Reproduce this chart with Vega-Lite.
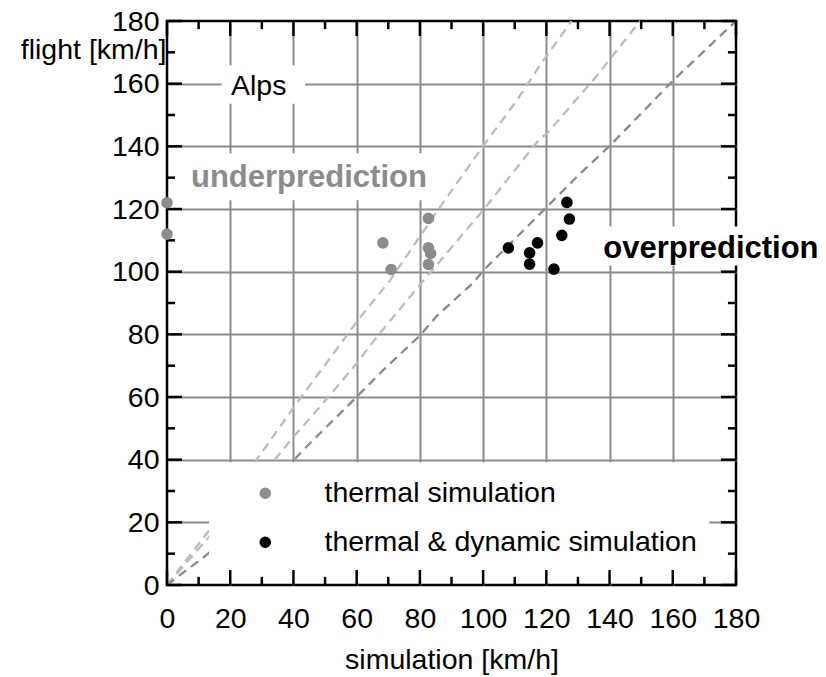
{
  "$schema": "https://vega.github.io/schema/vega-lite/v6.json",
  "width": 569,
  "height": 564,
  "autosize": {"type": "none"},
  "padding": {"left": 167, "top": 21, "right": 90, "bottom": 92},
  "background": "white",
  "config": {
    "view": {"stroke": "black", "strokeWidth": 2.5},
    "font": "Liberation Sans"
  },
  "datasets": {
    "ptsData": [
      {"sim": 0, "flight": 122, "type": "thermal simulation"},
      {"sim": 0, "flight": 112, "type": "thermal simulation"},
      {"sim": 68.3, "flight": 109.2, "type": "thermal simulation"},
      {"sim": 70.9, "flight": 100.7, "type": "thermal simulation"},
      {"sim": 82.7, "flight": 117, "type": "thermal simulation"},
      {"sim": 82.7, "flight": 107.6, "type": "thermal simulation"},
      {"sim": 83.4, "flight": 105.8, "type": "thermal simulation"},
      {"sim": 82.7, "flight": 102.3, "type": "thermal simulation"},
      {"sim": 108, "flight": 107.6, "type": "thermal & dynamic simulation"},
      {"sim": 117.2, "flight": 109.2, "type": "thermal & dynamic simulation"},
      {"sim": 114.7, "flight": 106, "type": "thermal & dynamic simulation"},
      {"sim": 114.7, "flight": 102.4, "type": "thermal & dynamic simulation"},
      {"sim": 122.4, "flight": 100.8, "type": "thermal & dynamic simulation"},
      {"sim": 124.9, "flight": 111.6, "type": "thermal & dynamic simulation"},
      {"sim": 126.5, "flight": 122.1, "type": "thermal & dynamic simulation"},
      {"sim": 127.3, "flight": 116.8, "type": "thermal & dynamic simulation"}
    ],
    "lineData": [
      {"line": "A", "sim": 0, "flight": 0},
      {"line": "A", "sim": 13, "flight": 17},
      {"line": "A", "sim": 29.4, "flight": 41.5},
      {"line": "A", "sim": 41, "flight": 58},
      {"line": "A", "sim": 56.9, "flight": 79.7},
      {"line": "A", "sim": 60, "flight": 84},
      {"line": "A", "sim": 70.6, "flight": 97.3},
      {"line": "A", "sim": 86.4, "flight": 120.7},
      {"line": "A", "sim": 100.6, "flight": 140.9},
      {"line": "A", "sim": 110.7, "flight": 154.7},
      {"line": "A", "sim": 118, "flight": 165.9},
      {"line": "A", "sim": 128, "flight": 180},
      {"line": "B", "sim": 0, "flight": 0},
      {"line": "B", "sim": 13, "flight": 15},
      {"line": "B", "sim": 33.1, "flight": 38.8},
      {"line": "B", "sim": 40, "flight": 47.3},
      {"line": "B", "sim": 48.4, "flight": 56.9},
      {"line": "B", "sim": 60, "flight": 70.7},
      {"line": "B", "sim": 66.4, "flight": 79.2},
      {"line": "B", "sim": 81, "flight": 97},
      {"line": "B", "sim": 100, "flight": 119.6},
      {"line": "B", "sim": 118, "flight": 142.5},
      {"line": "B", "sim": 120.2, "flight": 144.1},
      {"line": "B", "sim": 137, "flight": 163.7},
      {"line": "B", "sim": 140.2, "flight": 168},
      {"line": "B", "sim": 149.7, "flight": 180},
      {"line": "C", "sim": 0, "flight": 0},
      {"line": "C", "sim": 13, "flight": 10},
      {"line": "C", "sim": 43, "flight": 43},
      {"line": "C", "sim": 59, "flight": 59},
      {"line": "C", "sim": 68.4, "flight": 68.6},
      {"line": "C", "sim": 80, "flight": 79.6},
      {"line": "C", "sim": 85.3, "flight": 85.8},
      {"line": "C", "sim": 97, "flight": 96.6},
      {"line": "C", "sim": 100, "flight": 100.3},
      {"line": "C", "sim": 130.7, "flight": 131.3},
      {"line": "C", "sim": 140.2, "flight": 140.3},
      {"line": "C", "sim": 160.2, "flight": 161.1},
      {"line": "C", "sim": 180, "flight": 180}
    ],
    "boxData": [
      {"box": "legend", "x1": 13.3, "x2": 171.5, "y1": 0.7, "y2": 39.2},
      {"box": "under", "x1": 4.5, "x2": 86.5, "y1": 122.8, "y2": 137.8},
      {"box": "alps", "x1": 17.3, "x2": 43.7, "y1": 153.6, "y2": 165.9},
      {"box": "over", "x1": 136, "x2": 210, "y1": 102, "y2": 114.4}
    ],
    "textData": [
      {"label": "Alps", "sim": 29, "flight": 156.5},
      {"label": "underprediction", "sim": 44.9, "flight": 127},
      {"label": "overprediction", "sim": 138, "flight": 104.5}
    ],
    "tickData": [
      {"v": 0, "kind": "major"}, {"v": 10, "kind": "minor"}, {"v": 20, "kind": "major"},
      {"v": 30, "kind": "minor"}, {"v": 40, "kind": "major"}, {"v": 50, "kind": "minor"},
      {"v": 60, "kind": "major"}, {"v": 70, "kind": "minor"}, {"v": 80, "kind": "major"},
      {"v": 90, "kind": "minor"}, {"v": 100, "kind": "major"}, {"v": 110, "kind": "minor"},
      {"v": 120, "kind": "major"}, {"v": 130, "kind": "minor"}, {"v": 140, "kind": "major"},
      {"v": 150, "kind": "minor"}, {"v": 160, "kind": "major"}, {"v": 170, "kind": "minor"},
      {"v": 180, "kind": "major"}
    ]
  },
  "resolve": {"axis": {"x": "independent", "y": "independent"}},
  "layer": [
    {
      "data": {"name": "lineData"},
      "transform": [{"filter": "datum.line !== 'C'"}],
      "mark": {"type": "line", "stroke": "#bcbcbc", "strokeWidth": 2.3, "strokeDash": [9, 6]},
      "encoding": {
        "x": {"field": "sim", "type": "quantitative", "scale": {"domain": [0, 180], "nice": false}, "axis": null},
        "y": {"field": "flight", "type": "quantitative", "scale": {"domain": [0, 180], "nice": false}, "axis": null},
        "detail": {"field": "line"}
      }
    },
    {
      "data": {"name": "lineData"},
      "transform": [{"filter": "datum.line === 'C'"}],
      "mark": {"type": "line", "stroke": "#8a8a8a", "strokeWidth": 2.3, "strokeDash": [9, 6]},
      "encoding": {
        "x": {"field": "sim", "type": "quantitative", "scale": {"domain": [0, 180], "nice": false}, "axis": null},
        "y": {"field": "flight", "type": "quantitative", "scale": {"domain": [0, 180], "nice": false}, "axis": null}
      }
    },
    {
      "data": {"name": "boxData"},
      "transform": [{"filter": "datum.box !== 'over'"}],
      "mark": {"type": "rect", "fill": "white", "strokeWidth": 0},
      "encoding": {
        "x": {
          "field": "x1", "type": "quantitative",
          "scale": {"domain": [0, 180], "nice": false},
          "axis": {
            "orient": "top", "values": [20,40,60,80,100,120,140,160],
            "grid": true, "gridColor": "#8c8c8c", "gridWidth": 2,
            "domain": false, "labels": false, "ticks": false, "zindex": 0,
            "title": null
          }
        },
        "x2": {"field": "x2"},
        "y": {
          "field": "y1", "type": "quantitative",
          "scale": {"domain": [0, 180], "nice": false},
          "axis": {
            "orient": "right", "values": [20,40,60,80,100,120,140,160],
            "grid": true, "gridColor": "#8c8c8c", "gridWidth": 2,
            "domain": false, "labels": false, "ticks": false, "zindex": 0,
            "title": null
          }
        },
        "y2": {"field": "y2"}
      }
    },
    {
      "data": {"name": "tickData"},
      "transform": [{"filter": "datum.kind === 'major'"}],
      "mark": {"type": "rule", "color": "black", "strokeWidth": 2.5},
      "encoding": {
        "x": {"field": "v", "type": "quantitative", "scale": {"domain": [0, 180], "nice": false}, "axis": null},
        "y": {"datum": 0, "type": "quantitative", "scale": {"domain": [0, 180], "nice": false}, "axis": null},
        "y2": {"datum": 4.8}
      }
    },
    {
      "data": {"name": "tickData"},
      "transform": [{"filter": "datum.kind === 'minor'"}],
      "mark": {"type": "rule", "color": "black", "strokeWidth": 2.5},
      "encoding": {
        "x": {"field": "v", "type": "quantitative", "scale": {"domain": [0, 180], "nice": false}, "axis": null},
        "y": {"datum": 0, "type": "quantitative", "scale": {"domain": [0, 180], "nice": false}, "axis": null},
        "y2": {"datum": 2.6}
      }
    },
    {
      "data": {"name": "tickData"},
      "transform": [{"filter": "datum.kind === 'major'"}],
      "mark": {"type": "rule", "color": "black", "strokeWidth": 2.5},
      "encoding": {
        "x": {"field": "v", "type": "quantitative", "scale": {"domain": [0, 180], "nice": false}, "axis": null},
        "y": {"datum": 180, "type": "quantitative", "scale": {"domain": [0, 180], "nice": false}, "axis": null},
        "y2": {"datum": 175.2}
      }
    },
    {
      "data": {"name": "tickData"},
      "transform": [{"filter": "datum.kind === 'minor'"}],
      "mark": {"type": "rule", "color": "black", "strokeWidth": 2.5},
      "encoding": {
        "x": {"field": "v", "type": "quantitative", "scale": {"domain": [0, 180], "nice": false}, "axis": null},
        "y": {"datum": 180, "type": "quantitative", "scale": {"domain": [0, 180], "nice": false}, "axis": null},
        "y2": {"datum": 177.4}
      }
    },
    {
      "data": {"name": "tickData"},
      "transform": [{"filter": "datum.kind === 'major'"}],
      "mark": {"type": "rule", "color": "black", "strokeWidth": 2.5},
      "encoding": {
        "y": {"field": "v", "type": "quantitative", "scale": {"domain": [0, 180], "nice": false}, "axis": null},
        "x": {"datum": 0, "type": "quantitative", "scale": {"domain": [0, 180], "nice": false}, "axis": null},
        "x2": {"datum": 4.75}
      }
    },
    {
      "data": {"name": "tickData"},
      "transform": [{"filter": "datum.kind === 'minor'"}],
      "mark": {"type": "rule", "color": "black", "strokeWidth": 2.5},
      "encoding": {
        "y": {"field": "v", "type": "quantitative", "scale": {"domain": [0, 180], "nice": false}, "axis": null},
        "x": {"datum": 0, "type": "quantitative", "scale": {"domain": [0, 180], "nice": false}, "axis": null},
        "x2": {"datum": 2.55}
      }
    },
    {
      "data": {"name": "tickData"},
      "transform": [{"filter": "datum.kind === 'major'"}],
      "mark": {"type": "rule", "color": "black", "strokeWidth": 2.5},
      "encoding": {
        "y": {"field": "v", "type": "quantitative", "scale": {"domain": [0, 180], "nice": false}, "axis": null},
        "x": {"datum": 180, "type": "quantitative", "scale": {"domain": [0, 180], "nice": false}, "axis": null},
        "x2": {"datum": 175.25}
      }
    },
    {
      "data": {"name": "tickData"},
      "transform": [{"filter": "datum.kind === 'minor'"}],
      "mark": {"type": "rule", "color": "black", "strokeWidth": 2.5},
      "encoding": {
        "y": {"field": "v", "type": "quantitative", "scale": {"domain": [0, 180], "nice": false}, "axis": null},
        "x": {"datum": 180, "type": "quantitative", "scale": {"domain": [0, 180], "nice": false}, "axis": null},
        "x2": {"datum": 177.45}
      }
    },
    {
      "data": {"name": "ptsData"},
      "mark": {"type": "circle", "size": 135, "opacity": 1},
      "encoding": {
        "x": {
          "field": "sim", "type": "quantitative",
          "scale": {"domain": [0, 180], "nice": false},
          "axis": {
            "orient": "bottom", "values": [0,20,40,60,80,100,120,140,160,180],
            "grid": false, "domain": false, "ticks": false, "zindex": 1,
            "labelFlush": false, "labelOverlap": false, "labelPadding": 19,
            "labelFontSize": 28.5, "labelFont": "Liberation Sans", "labelColor": "black",
            "title": "simulation [km/h]", "titleFontSize": 28.5, "titleFontWeight": "normal",
            "titleFont": "Liberation Sans", "titleColor": "black", "titleY": 83, "titleBaseline": "alphabetic"
          }
        },
        "y": {
          "field": "flight", "type": "quantitative",
          "scale": {"domain": [0, 180], "nice": false},
          "axis": {
            "orient": "left", "values": [0,20,40,60,80,100,120,140,160,180],
            "grid": false, "domain": false, "ticks": false, "zindex": 1,
            "labelFlush": false, "labelOverlap": false, "labelPadding": 8,
            "labelFontSize": 28.5, "labelFont": "Liberation Sans", "labelColor": "black",
            "title": "flight [km/h]", "titleFontSize": 28.5, "titleFontWeight": "normal",
            "titleFont": "Liberation Sans", "titleColor": "black", "titleAngle": 0,
            "titleAlign": "right", "titleX": -1, "titleY": 37, "titleBaseline": "alphabetic"
          }
        },
        "color": {
          "field": "type", "type": "nominal",
          "scale": {"domain": ["thermal simulation", "thermal & dynamic simulation"], "range": ["#8c8c8c", "#000000"]},
          "legend": {
            "orient": "none", "legendX": 84, "legendY": 458, "title": null,
            "labelFontSize": 28.5, "labelFont": "Liberation Sans", "labelColor": "black",
            "symbolSize": 135, "symbolType": "circle", "symbolStrokeWidth": 0,
            "labelOffset": 45, "rowPadding": 20, "padding": 0, "labelLimit": 600
          }
        }
      }
    },
    {
      "data": {"name": "boxData"},
      "transform": [{"filter": "datum.box === 'over'"}],
      "mark": {"type": "rect", "fill": "white", "strokeWidth": 0},
      "encoding": {
        "x": {"field": "x1", "type": "quantitative", "scale": {"domain": [0, 180], "nice": false}, "axis": null},
        "x2": {"field": "x2"},
        "y": {"field": "y1", "type": "quantitative", "scale": {"domain": [0, 180], "nice": false}, "axis": null},
        "y2": {"field": "y2"}
      }
    },
    {
      "data": {"name": "textData"},
      "transform": [{"filter": "datum.label === 'Alps'"}],
      "mark": {"type": "text", "font": "Liberation Sans", "fontSize": 28.5, "color": "black", "align": "center", "baseline": "alphabetic"},
      "encoding": {
        "x": {"field": "sim", "type": "quantitative", "scale": {"domain": [0, 180], "nice": false}, "axis": null},
        "y": {"field": "flight", "type": "quantitative", "scale": {"domain": [0, 180], "nice": false}, "axis": null},
        "text": {"field": "label"}
      }
    },
    {
      "data": {"name": "textData"},
      "transform": [{"filter": "datum.label === 'underprediction'"}],
      "mark": {"type": "text", "font": "Liberation Sans", "fontSize": 31, "fontWeight": "bold", "color": "#8c8c8c", "align": "center", "baseline": "alphabetic"},
      "encoding": {
        "x": {"field": "sim", "type": "quantitative", "scale": {"domain": [0, 180], "nice": false}, "axis": null},
        "y": {"field": "flight", "type": "quantitative", "scale": {"domain": [0, 180], "nice": false}, "axis": null},
        "text": {"field": "label"}
      }
    },
    {
      "data": {"name": "textData"},
      "transform": [{"filter": "datum.label === 'overprediction'"}],
      "mark": {"type": "text", "font": "Liberation Sans", "fontSize": 31, "fontWeight": "bold", "color": "black", "align": "left", "baseline": "alphabetic"},
      "encoding": {
        "x": {"field": "sim", "type": "quantitative", "scale": {"domain": [0, 180], "nice": false}, "axis": null},
        "y": {"field": "flight", "type": "quantitative", "scale": {"domain": [0, 180], "nice": false}, "axis": null},
        "text": {"field": "label"}
      }
    }
  ]
}
